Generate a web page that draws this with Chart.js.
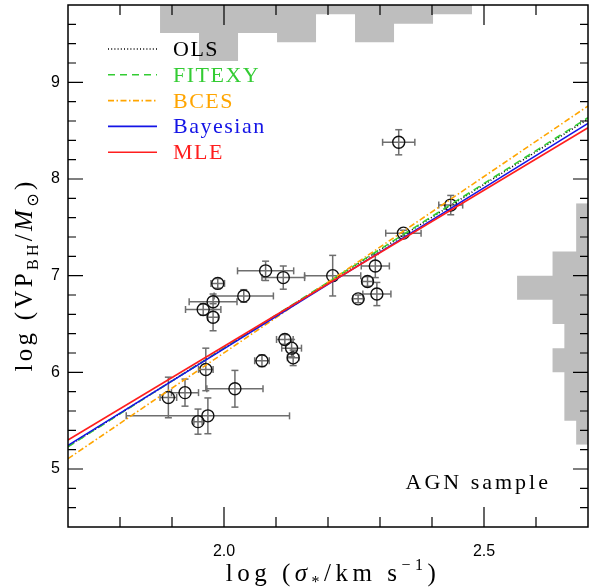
<!DOCTYPE html>
<html>
<head>
<meta charset="utf-8">
<script src="https://cdn.jsdelivr.net/npm/chart.js@4.4.1/dist/chart.umd.min.js"></script>
<style>
  html, body { margin: 0; padding: 0; background: #fff; }
  #wrap { width: 589px; height: 588px; }
</style>
</head>
<body>
<div id="wrap"><canvas id="chart" width="589" height="588"></canvas></div>
<script>
// AGN sample: log sigma_* and log VP_BH with errors
const logSigma = [2.336, 2.436, 2.345, 2.209, 2.291, 2.276, 2.294, 2.258, 2.080, 2.114, 1.988, 2.038, 1.979,
  1.960, 1.979, 2.117, 2.130, 2.133, 2.073, 1.965, 2.021, 1.925, 1.893, 1.969, 1.950];
const logSigmaErr = [0.031, 0.023, 0.034, 0.054, 0.027, 0.010, 0.027, 0.010, 0.054, 0.041, 0.013, 0.057, 0.046,
  0.034, 0.010, 0.016, 0.019, 0.011, 0.014, 0.014, 0.054, 0.026, 0.016, 0.157, 0.008];
const logVP = [8.38, 7.73, 7.44, 7.00, 7.10, 6.94, 6.81, 6.76, 7.05, 6.98, 6.92, 6.79, 6.73,
  6.65, 6.57, 6.34, 6.25, 6.15, 6.12, 6.03, 5.83, 5.79, 5.74, 5.55, 5.49];
const logVPErr = [0.13, 0.10, 0.03, 0.21, 0.12, 0.05, 0.12, 0.04, 0.10, 0.12, 0.05, 0.065, 0.08,
  0.06, 0.14, 0.05, 0.09, 0.08, 0.06, 0.22, 0.19, 0.14, 0.21, 0.185, 0.13];

// fitted relations, value at the left (1.7) and right (2.7) edge of the plot
const fitNames = ['OLS', 'FITEXY', 'BCES', 'Bayesian', 'MLE'];
const fitX = [1.7, 2.7];
const fitStart = [5.235, 5.23, 5.107, 5.245, 5.30];
const fitEnd = [8.62, 8.634, 8.755, 8.576, 8.53];
const fitColors = ['#000000', '#33cc33', '#ffa500', '#1414e6', '#ff1e1e'];
const fitDash = [[1, 2.2], [7, 5], [6, 2.5, 1.5, 2.5], [], []];

// marginal histograms (counts per bin)
const sigmaBinEdges = [1.877, 1.952, 2.027, 2.102, 2.177, 2.252, 2.327, 2.402, 2.477];
const sigmaCounts = [3, 6, 3, 4, 1, 4, 2, 1];
const vpBinEdges = [5.25, 5.5, 5.75, 6.0, 6.25, 6.5, 6.75, 7.0, 7.25, 7.5, 7.75];
const vpCounts = [1, 2, 2, 3, 2, 3, 6, 3, 1, 1];

const xTicks = [2.0, 2.5];
const xTickLabels = ['2.0', '2.5'];
const yTicks = [5, 6, 7, 8, 9];
const yTickLabels = ['5', '6', '7', '8', '9'];

const GRAY = '#bebebe';
const ERR = '#6e6e6e';

// build datasets
const pts = logSigma.map((s, i) => ({ x: s, y: logVP[i] }));
const xErrSeg = [], yErrSeg = [], xCaps = [], yCaps = [];
logSigma.forEach((s, i) => {
  const m = logVP[i], ex = logSigmaErr[i], ey = logVPErr[i];
  xErrSeg.push({ x: s - ex, y: m }, { x: s + ex, y: m }, { x: s, y: null });
  yErrSeg.push({ x: s, y: m - ey }, { x: s, y: m + ey }, { x: s, y: null });
  xCaps.push({ x: s - ex, y: m }, { x: s + ex, y: m });
  yCaps.push({ x: s, y: m - ey }, { x: s, y: m + ey });
});

const topHist = [{ x: sigmaBinEdges[0], y: 0 }];
sigmaCounts.forEach((c, i) => topHist.push({ x: sigmaBinEdges[i], y: c }));
topHist.push({ x: sigmaBinEdges[sigmaBinEdges.length - 1], y: 0 });

const rightHist = [{ x: 0, y: vpBinEdges[0] }];
vpCounts.forEach((c, i) => rightHist.push({ x: c, y: vpBinEdges[i] }));
rightHist.push({ x: 0, y: vpBinEdges[vpBinEdges.length - 1] });

const datasets = [];
fitNames.forEach((name, i) => {
  datasets.push({
    type: 'line', label: name,
    data: fitX.map((x, k) => ({ x, y: k === 0 ? fitStart[i] : fitEnd[i] })),
    borderColor: fitColors[i], borderWidth: 1.6, borderDash: fitDash[i],
    pointRadius: 0, fill: false, order: 1 + (4 - i) * 0.1
  });
});
datasets.push(
  { type: 'scatter', label: 'AGN', data: pts, pointStyle: 'circle', pointRadius: 6,
    borderColor: '#111', backgroundColor: 'rgba(0,0,0,0)', borderWidth: 1.4, order: 3 },
  { type: 'line', label: 'xerr', data: xErrSeg, borderColor: ERR, borderWidth: 1.5,
    pointRadius: 0, spanGaps: false, fill: false, order: 4 },
  { type: 'line', label: 'yerr', data: yErrSeg, borderColor: ERR, borderWidth: 1.5,
    pointRadius: 0, spanGaps: false, fill: false, order: 4 },
  { type: 'scatter', label: 'xcap', data: xCaps, pointStyle: 'line', rotation: 90, pointRadius: 3.5,
    borderColor: ERR, borderWidth: 1.5, order: 4 },
  { type: 'scatter', label: 'ycap', data: yCaps, pointStyle: 'line', rotation: 0, pointRadius: 3.5,
    borderColor: ERR, borderWidth: 1.5, order: 4 },
  { type: 'line', label: 'sigmaHist', data: topHist, xAxisID: 'x', yAxisID: 'yTop', stepped: 'before',
    fill: { value: 0 }, backgroundColor: GRAY, borderWidth: 0, pointRadius: 0, order: 10 },
  { type: 'line', label: 'vpHist', data: rightHist, indexAxis: 'y', xAxisID: 'xRight', yAxisID: 'y',
    stepped: 'after', fill: { value: 0 }, backgroundColor: GRAY, borderWidth: 0, pointRadius: 0, order: 10 }
);

function drawRich(ctx, parts, x, y, spacing) {
  let w = 0;
  parts.forEach(p => { ctx.font = p.font; ctx.letterSpacing = spacing + 'px'; p.w = ctx.measureText(p.t).width; w += p.w; });
  let cx = x - w / 2;
  parts.forEach(p => {
    ctx.font = p.font; ctx.letterSpacing = spacing + 'px';
    ctx.fillText(p.t, cx, y + (p.dy || 0));
    cx += p.w;
  });
}

const decorations = {
  id: 'decorations',
  afterDatasetsDraw(chart) {
    const { ctx, chartArea: a, scales: { x, y } } = chart;
    ctx.save();
    ctx.strokeStyle = '#000';
    ctx.lineWidth = 1.2;
    ctx.beginPath();
    for (let k = 18; k <= 26; k++) {
      const px = x.getPixelForValue(k / 10);
      const len = k % 5 === 0 ? 20 : 10;
      ctx.moveTo(px, a.bottom); ctx.lineTo(px, a.bottom - len);
      ctx.moveTo(px, a.top); ctx.lineTo(px, a.top + len);
    }
    for (let k = 23; k <= 48; k++) {
      const py = y.getPixelForValue(k / 5);
      const len = k % 5 === 0 ? 15 : 8;
      ctx.moveTo(a.left, py); ctx.lineTo(a.left + len, py);
      ctx.moveTo(a.right, py); ctx.lineTo(a.right - len, py);
    }
    ctx.stroke();
    ctx.lineWidth = 1.5;
    ctx.strokeRect(a.left, a.top, a.width, a.height);
    ctx.restore();
  },
  afterDraw(chart) {
    const { ctx, chartArea: a } = chart;
    ctx.save();
    // legend
    fitNames.forEach((name, i) => {
      const yc = a.top + 44 + i * 25.8;
      ctx.beginPath();
      ctx.strokeStyle = fitColors[i];
      ctx.lineWidth = 1.6;
      ctx.setLineDash(fitDash[i]);
      ctx.moveTo(108, yc); ctx.lineTo(157, yc);
      ctx.stroke();
      ctx.setLineDash([]);
      ctx.fillStyle = fitColors[i];
      ctx.font = '22px "Liberation Serif", serif';
      ctx.letterSpacing = '1.5px';
      ctx.textAlign = 'left';
      ctx.textBaseline = 'alphabetic';
      ctx.fillText(name, 173, yc + 7);
    });
    // sample label
    ctx.fillStyle = '#000';
    ctx.font = '22px "Liberation Serif", serif';
    ctx.letterSpacing = '3px';
    ctx.textAlign = 'right';
    ctx.fillText('AGN sample', 551, 489);
    ctx.textAlign = 'left';
    // x title
    const big = '25px "Liberation Serif", serif';
    const bigIt = 'italic 25px "Liberation Serif", serif';
    const small = '16px "Liberation Serif", serif';
    drawRich(ctx, [
      { t: 'log (', font: big },
      { t: 'σ', font: bigIt },
      { t: '*', font: small, dy: 6 },
      { t: '/km s', font: big },
      { t: '−1', font: small, dy: -11 },
      { t: ')', font: big }
    ], 333, 581, 4.5);
    // y title
    ctx.translate(32, 275);
    ctx.rotate(-Math.PI / 2);
    drawRich(ctx, [
      { t: 'log (VP', font: big },
      { t: 'BH', font: small, dy: 6 },
      { t: '/', font: big },
      { t: 'M', font: bigIt },
      { t: '⊙', font: '16px "DejaVu Sans", sans-serif', dy: 6 },
      { t: ')', font: big }
    ], 0, 0, 3.3);
    ctx.restore();
  }
};

function noPad(s) {
  s.paddingTop = 0; s.paddingBottom = 0; s.paddingLeft = 0; s.paddingRight = 0;
}

new Chart(document.getElementById('chart'), {
  type: 'scatter',
  data: { datasets },
  options: {
    responsive: false,
    animation: false,
    devicePixelRatio: 1,
    layout: { autoPadding: false, padding: { top: 5, right: 1, left: 0, bottom: 0 } },
    plugins: { legend: { display: false }, tooltip: { enabled: false } },
    scales: {
      x: {
        type: 'linear', position: 'bottom', min: 1.7, max: 2.7,
        grid: { display: false }, border: { display: false },
        afterBuildTicks: s => { s.ticks = xTicks.map(v => ({ value: v })); },
        afterFit: s => { s.height = 61; noPad(s); },
        ticks: {
          autoSkip: false, maxRotation: 0, padding: 7, color: '#000',
          font: { family: '"Liberation Sans", sans-serif', size: 16 },
          callback: v => xTickLabels[xTicks.indexOf(v)]
        }
      },
      y: {
        type: 'linear', position: 'left', min: 4.4, max: 9.8,
        grid: { display: false }, border: { display: false },
        afterBuildTicks: s => { s.ticks = yTicks.map(v => ({ value: v })); },
        afterFit: s => { s.width = 68; noPad(s); },
        ticks: {
          autoSkip: false, padding: 0, color: '#000',
          font: { family: '"Liberation Sans", sans-serif', size: 16 },
          callback: v => yTickLabels[yTicks.indexOf(v)]
        }
      },
      yTop: { type: 'linear', axis: 'y', display: false, min: 0, max: 56, reverse: true },
      xRight: { type: 'linear', axis: 'x', display: false, min: 0, max: 44, reverse: true }
    }
  },
  plugins: [decorations]
});
</script>
</body>
</html>
